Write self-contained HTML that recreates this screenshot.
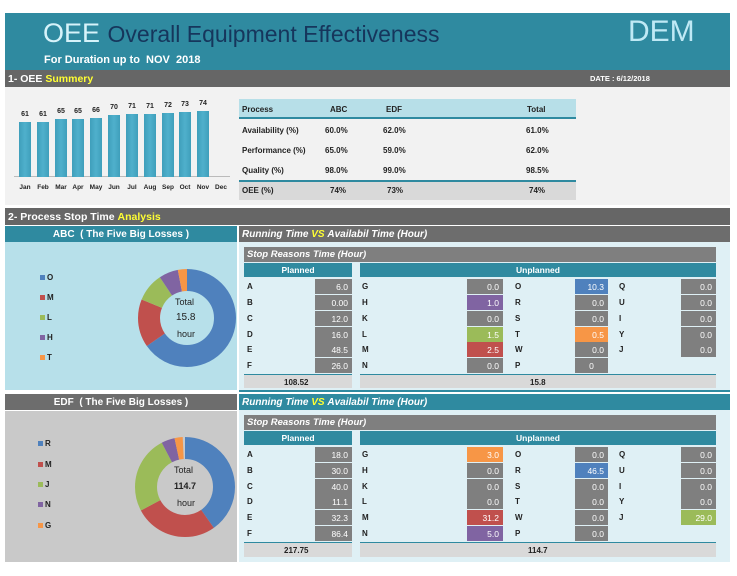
<!DOCTYPE html>
<html><head><meta charset="utf-8"><style>
*{margin:0;padding:0;box-sizing:border-box}
body{width:737px;height:576px;background:#fff;position:relative;overflow:hidden;font-family:"Liberation Sans",sans-serif}
.a{position:absolute}
.t{position:absolute;white-space:nowrap;line-height:1}
.bar{position:absolute;width:12px;background:linear-gradient(90deg,#3f9fbb,#4fb0cc 50%,#3f9fbb)}
.lb{position:absolute;font-size:7px;color:#222;width:18px;text-align:center;font-weight:bold}
.ml{position:absolute;font-size:6.5px;color:#222;width:18px;text-align:center;top:184px;font-weight:bold}
.hdr{position:absolute;color:#fff;font-weight:bold;font-size:10px;display:flex;align-items:center}
.gb{position:absolute;background:#7f7f7f;color:#fff;font-size:8.5px;text-align:right;padding-right:4px;display:flex;align-items:center;justify-content:flex-end;height:15px}
.lt{position:absolute;font-size:8px;font-weight:bold;color:#222}
.tb{font-size:8px;font-weight:bold;color:#222;position:absolute}
</style></head><body>
<div class="a" style="left:5px;top:13px;width:725px;height:57px;background:#2f8aa0"></div>
<div class="t" style="left:43px;top:20px;font-size:27px;color:#d6f3fa">OEE <span style="color:#16365c;font-size:23px">Overall Equipment Effectiveness</span></div>
<div class="t" style="left:44px;top:55px;font-size:11px;color:#fff;font-weight:bold">For Duration up to&nbsp; NOV&nbsp; 2018</div>
<div class="t" style="left:628px;top:17px;font-size:30px;color:#bfe9f5">DEM</div>
<div class="hdr" style="left:5px;top:70px;width:725px;height:17px;background:#666;padding-left:3px;font-size:10.5px">1- OEE&nbsp;<span style="color:#ffff33">Summery</span></div>
<div class="t" style="left:590px;top:75px;font-size:7.5px;color:#fff;font-weight:bold">DATE : 6/12/2018</div>
<div class="a" style="left:5px;top:87px;width:725px;height:118px;background:#f2f2f2"></div>
<div class="a" style="left:14px;top:176px;width:216px;height:1px;background:#bbb"></div>
<div class="bar" style="left:19px;top:122px;height:55px"></div><div class="lb" style="left:16px;top:111px">61</div><div class="ml" style="left:16px">Jan</div>
<div class="bar" style="left:37px;top:122px;height:55px"></div><div class="lb" style="left:34px;top:111px">61</div><div class="ml" style="left:34px">Feb</div>
<div class="bar" style="left:55px;top:118.7px;height:58px"></div><div class="lb" style="left:52px;top:108px">65</div><div class="ml" style="left:52px">Mar</div>
<div class="bar" style="left:72px;top:118.7px;height:58px"></div><div class="lb" style="left:69px;top:108px">65</div><div class="ml" style="left:69px">Apr</div>
<div class="bar" style="left:90px;top:117.8px;height:59px"></div><div class="lb" style="left:87px;top:107px">66</div><div class="ml" style="left:87px">May</div>
<div class="bar" style="left:108px;top:114.5px;height:62px"></div><div class="lb" style="left:105px;top:104px">70</div><div class="ml" style="left:105px">Jun</div>
<div class="bar" style="left:126px;top:113.6px;height:63px"></div><div class="lb" style="left:123px;top:103px">71</div><div class="ml" style="left:123px">Jul</div>
<div class="bar" style="left:144px;top:113.6px;height:63px"></div><div class="lb" style="left:141px;top:103px">71</div><div class="ml" style="left:141px">Aug</div>
<div class="bar" style="left:162px;top:112.7px;height:64px"></div><div class="lb" style="left:159px;top:102px">72</div><div class="ml" style="left:159px">Sep</div>
<div class="bar" style="left:179px;top:111.8px;height:65px"></div><div class="lb" style="left:176px;top:101px">73</div><div class="ml" style="left:176px">Oct</div>
<div class="bar" style="left:197px;top:110.9px;height:66px"></div><div class="lb" style="left:194px;top:100px">74</div><div class="ml" style="left:194px">Nov</div>
<div class="ml" style="left:212px">Dec</div>
<div class="a" style="left:239px;top:99px;width:337px;height:20px;background:#b7dfe8;border-bottom:2px solid #2f8aa0"></div>
<div class="a" style="left:239px;top:180px;width:337px;height:20px;background:#d9d9d9;border-top:2px solid #2f8aa0"></div>
<div class="tb" style="left:242px;top:105px">Process</div><div class="tb" style="left:330px;top:105px">ABC</div><div class="tb" style="left:386px;top:105px">EDF</div><div class="tb" style="left:527px;top:105px">Total</div>
<div class="tb" style="left:242px;top:126px">Availability (%)</div><div class="tb" style="left:325px;top:126px">60.0%</div><div class="tb" style="left:383px;top:126px">62.0%</div><div class="tb" style="left:526px;top:126px">61.0%</div>
<div class="tb" style="left:242px;top:146px">Performance (%)</div><div class="tb" style="left:325px;top:146px">65.0%</div><div class="tb" style="left:383px;top:146px">59.0%</div><div class="tb" style="left:526px;top:146px">62.0%</div>
<div class="tb" style="left:242px;top:166px">Quality (%)</div><div class="tb" style="left:325px;top:166px">98.0%</div><div class="tb" style="left:383px;top:166px">99.0%</div><div class="tb" style="left:526px;top:166px">98.5%</div>
<div class="tb" style="left:242px;top:186px">OEE (%)</div><div class="tb" style="left:330px;top:186px">74%</div><div class="tb" style="left:387px;top:186px">73%</div><div class="tb" style="left:529px;top:186px">74%</div>
<div class="hdr" style="left:5px;top:208px;width:725px;height:17px;background:#666;padding-left:3px;font-size:10.5px">2- Process Stop Time&nbsp;<span style="color:#ffff33">Analysis</span></div>
<div class="hdr" style="left:5px;top:226px;width:232px;height:16px;background:#2f8aa0;justify-content:center">ABC&nbsp; ( The Five Big Losses )</div>
<div class="hdr" style="left:239px;top:226px;width:491px;height:16px;background:#6d6d6d;padding-left:3px;font-style:italic">Running Time&nbsp;<span style="color:#ffff33">VS</span>&nbsp;Availabil Time (Hour)</div>
<div class="a" style="left:5px;top:242px;width:232px;height:148px;background:#b7e0ea"></div>
<div class="a" style="left:239px;top:242px;width:491px;height:148px;background:#dff0f5"></div>
<div class="a" style="left:239px;top:390px;width:491px;height:2px;background:#2f8aa0"></div>
<svg class="a" style="left:0;top:0" width="737" height="576">
<g transform="rotate(-90 187 318)" fill="none" stroke-width="22">
<circle cx="187" cy="318" r="38" stroke="#4f81bd" stroke-dasharray="155.65 300" stroke-dashoffset="0"/>
<circle cx="187" cy="318" r="38" stroke="#c0504d" stroke-dasharray="37.78 300" stroke-dashoffset="-155.65"/>
<circle cx="187" cy="318" r="38" stroke="#9bbb59" stroke-dasharray="22.67 300" stroke-dashoffset="-193.43"/>
<circle cx="187" cy="318" r="38" stroke="#8064a2" stroke-dasharray="15.11 300" stroke-dashoffset="-216.10"/>
<circle cx="187" cy="318" r="38" stroke="#f79646" stroke-dasharray="7.56 300" stroke-dashoffset="-231.21"/>
</g>
<g transform="rotate(-90 185 487)" fill="none" stroke-width="22">
<circle cx="185" cy="487" r="39" stroke="#4f81bd" stroke-dasharray="98.4 300" stroke-dashoffset="0"/>
<circle cx="185" cy="487" r="39" stroke="#c0504d" stroke-dasharray="66.0 300" stroke-dashoffset="-98.4"/>
<circle cx="185" cy="487" r="39" stroke="#9bbb59" stroke-dasharray="61.4 300" stroke-dashoffset="-164.4"/>
<circle cx="185" cy="487" r="39" stroke="#8064a2" stroke-dasharray="10.6 300" stroke-dashoffset="-225.8"/>
<circle cx="185" cy="487" r="39" stroke="#f79646" stroke-dasharray="6.4 300" stroke-dashoffset="-236.4"/>
</g>
</svg>
<div class="t" style="left:175px;top:298px;font-size:9px;color:#222">Total</div>
<div class="t" style="left:176px;top:313px;font-size:10px;color:#222">15.8</div>
<div class="t" style="left:177px;top:330px;font-size:9px;color:#222">hour</div>
<div class="a" style="left:40px;top:275px;width:5px;height:5px;background:#4f81bd"></div><div class="lt" style="left:47px;top:273px">O</div>
<div class="a" style="left:40px;top:295px;width:5px;height:5px;background:#c0504d"></div><div class="lt" style="left:47px;top:293px">M</div>
<div class="a" style="left:40px;top:315px;width:5px;height:5px;background:#9bbb59"></div><div class="lt" style="left:47px;top:313px">L</div>
<div class="a" style="left:40px;top:335px;width:5px;height:5px;background:#8064a2"></div><div class="lt" style="left:47px;top:333px">H</div>
<div class="a" style="left:40px;top:355px;width:5px;height:5px;background:#f79646"></div><div class="lt" style="left:47px;top:353px">T</div>
<div class="hdr" style="left:244px;top:247px;width:472px;height:15px;background:#7f7f7f;padding-left:3px;font-style:italic;font-size:9.5px">Stop Reasons Time (Hour)</div>
<div class="hdr" style="left:244px;top:263px;width:108px;height:14px;background:#2f8aa0;justify-content:center;font-size:8.5px">Planned</div>
<div class="hdr" style="left:360px;top:263px;width:356px;height:14px;background:#2f8aa0;justify-content:center;font-size:8.5px">Unplanned</div>
<div class="a" style="left:244px;top:374px;width:108px;height:14px;background:#d9d9d9;border-top:1px solid #2f8aa0"></div>
<div class="a" style="left:360px;top:374px;width:356px;height:14px;background:#d9d9d9;border-top:1px solid #2f8aa0"></div>
<div class="tb" style="left:284px;top:378px">108.52</div><div class="tb" style="left:530px;top:378px">15.8</div>
<div class="lt" style="left:247px;top:282px">A</div><div class="gb" style="left:315px;top:279px;width:37px">6.0</div>
<div class="lt" style="left:247px;top:298px">B</div><div class="gb" style="left:315px;top:295px;width:37px">0.00</div>
<div class="lt" style="left:247px;top:314px">C</div><div class="gb" style="left:315px;top:311px;width:37px">12.0</div>
<div class="lt" style="left:247px;top:330px">D</div><div class="gb" style="left:315px;top:327px;width:37px">16.0</div>
<div class="lt" style="left:247px;top:345px">E</div><div class="gb" style="left:315px;top:342px;width:37px">48.5</div>
<div class="lt" style="left:247px;top:361px">F</div><div class="gb" style="left:315px;top:358px;width:37px">26.0</div>
<div class="lt" style="left:362px;top:282px">G</div><div class="gb" style="left:467px;top:279px;width:36px">0.0</div>
<div class="lt" style="left:362px;top:298px">H</div><div class="gb" style="left:467px;top:295px;width:36px;background:#8064a2">1.0</div>
<div class="lt" style="left:362px;top:314px">K</div><div class="gb" style="left:467px;top:311px;width:36px">0.0</div>
<div class="lt" style="left:362px;top:330px">L</div><div class="gb" style="left:467px;top:327px;width:36px;background:#9bbb59">1.5</div>
<div class="lt" style="left:362px;top:345px">M</div><div class="gb" style="left:467px;top:342px;width:36px;background:#c0504d">2.5</div>
<div class="lt" style="left:362px;top:361px">N</div><div class="gb" style="left:467px;top:358px;width:36px">0.0</div>
<div class="lt" style="left:515px;top:282px">O</div><div class="gb" style="left:575px;top:279px;width:33px;background:#4f81bd">10.3</div>
<div class="lt" style="left:515px;top:298px">R</div><div class="gb" style="left:575px;top:295px;width:33px">0.0</div>
<div class="lt" style="left:515px;top:314px">S</div><div class="gb" style="left:575px;top:311px;width:33px">0.0</div>
<div class="lt" style="left:515px;top:330px">T</div><div class="gb" style="left:575px;top:327px;width:33px;background:#f79646">0.5</div>
<div class="lt" style="left:515px;top:345px">W</div><div class="gb" style="left:575px;top:342px;width:33px">0.0</div>
<div class="lt" style="left:515px;top:361px">P</div><div class="gb" style="left:575px;top:358px;width:33px;justify-content:center;padding:0">0</div>
<div class="lt" style="left:619px;top:282px">Q</div><div class="gb" style="left:681px;top:279px;width:35px">0.0</div>
<div class="lt" style="left:619px;top:298px">U</div><div class="gb" style="left:681px;top:295px;width:35px">0.0</div>
<div class="lt" style="left:619px;top:314px">I</div><div class="gb" style="left:681px;top:311px;width:35px">0.0</div>
<div class="lt" style="left:619px;top:330px">Y</div><div class="gb" style="left:681px;top:327px;width:35px">0.0</div>
<div class="lt" style="left:619px;top:345px">J</div><div class="gb" style="left:681px;top:342px;width:35px">0.0</div>
<div class="hdr" style="left:5px;top:394px;width:232px;height:16px;background:#6d6d6d;justify-content:center">EDF&nbsp; ( The Five Big Losses )</div>
<div class="hdr" style="left:239px;top:394px;width:491px;height:16px;background:#2f8aa0;padding-left:3px;font-style:italic">Running Time&nbsp;<span style="color:#ffff33">VS</span>&nbsp;Availabil Time (Hour)</div>
<div class="a" style="left:5px;top:411px;width:232px;height:151px;background:#c9c9c9;z-index:-1"></div>
<div class="a" style="left:239px;top:410px;width:491px;height:152px;background:#dff0f5;z-index:-1"></div>
<div class="t" style="left:174px;top:466px;font-size:9px;color:#222">Total</div>
<div class="t" style="left:174px;top:482px;font-size:9px;color:#222;font-weight:bold">114.7</div>
<div class="t" style="left:177px;top:499px;font-size:9px;color:#222">hour</div>
<div class="a" style="left:38px;top:441px;width:5px;height:5px;background:#4f81bd"></div><div class="lt" style="left:45px;top:439px">R</div>
<div class="a" style="left:38px;top:462px;width:5px;height:5px;background:#c0504d"></div><div class="lt" style="left:45px;top:460px">M</div>
<div class="a" style="left:38px;top:482px;width:5px;height:5px;background:#9bbb59"></div><div class="lt" style="left:45px;top:480px">J</div>
<div class="a" style="left:38px;top:502px;width:5px;height:5px;background:#8064a2"></div><div class="lt" style="left:45px;top:500px">N</div>
<div class="a" style="left:38px;top:523px;width:5px;height:5px;background:#f79646"></div><div class="lt" style="left:45px;top:521px">G</div>
<div class="hdr" style="left:244px;top:415px;width:472px;height:15px;background:#7f7f7f;padding-left:3px;font-style:italic;font-size:9.5px">Stop Reasons Time (Hour)</div>
<div class="hdr" style="left:244px;top:431px;width:108px;height:14px;background:#2f8aa0;justify-content:center;font-size:8.5px">Planned</div>
<div class="hdr" style="left:360px;top:431px;width:356px;height:14px;background:#2f8aa0;justify-content:center;font-size:8.5px">Unplanned</div>
<div class="a" style="left:244px;top:542px;width:108px;height:15px;background:#d9d9d9;border-top:1px solid #2f8aa0"></div>
<div class="a" style="left:360px;top:542px;width:356px;height:15px;background:#d9d9d9;border-top:1px solid #2f8aa0"></div>
<div class="tb" style="left:284px;top:546px">217.75</div><div class="tb" style="left:528px;top:546px">114.7</div>
<div class="lt" style="left:247px;top:450px">A</div><div class="gb" style="left:315px;top:447px;width:37px">18.0</div>
<div class="lt" style="left:247px;top:466px">B</div><div class="gb" style="left:315px;top:463px;width:37px">30.0</div>
<div class="lt" style="left:247px;top:482px">C</div><div class="gb" style="left:315px;top:479px;width:37px">40.0</div>
<div class="lt" style="left:247px;top:497px">D</div><div class="gb" style="left:315px;top:494px;width:37px">11.1</div>
<div class="lt" style="left:247px;top:513px">E</div><div class="gb" style="left:315px;top:510px;width:37px">32.3</div>
<div class="lt" style="left:247px;top:529px">F</div><div class="gb" style="left:315px;top:526px;width:37px">86.4</div>
<div class="lt" style="left:362px;top:450px">G</div><div class="gb" style="left:467px;top:447px;width:36px;background:#f79646">3.0</div>
<div class="lt" style="left:362px;top:466px">H</div><div class="gb" style="left:467px;top:463px;width:36px">0.0</div>
<div class="lt" style="left:362px;top:482px">K</div><div class="gb" style="left:467px;top:479px;width:36px">0.0</div>
<div class="lt" style="left:362px;top:497px">L</div><div class="gb" style="left:467px;top:494px;width:36px">0.0</div>
<div class="lt" style="left:362px;top:513px">M</div><div class="gb" style="left:467px;top:510px;width:36px;background:#c0504d">31.2</div>
<div class="lt" style="left:362px;top:529px">N</div><div class="gb" style="left:467px;top:526px;width:36px;background:#8064a2">5.0</div>
<div class="lt" style="left:515px;top:450px">O</div><div class="gb" style="left:575px;top:447px;width:33px">0.0</div>
<div class="lt" style="left:515px;top:466px">R</div><div class="gb" style="left:575px;top:463px;width:33px;background:#4f81bd">46.5</div>
<div class="lt" style="left:515px;top:482px">S</div><div class="gb" style="left:575px;top:479px;width:33px">0.0</div>
<div class="lt" style="left:515px;top:497px">T</div><div class="gb" style="left:575px;top:494px;width:33px">0.0</div>
<div class="lt" style="left:515px;top:513px">W</div><div class="gb" style="left:575px;top:510px;width:33px">0.0</div>
<div class="lt" style="left:515px;top:529px">P</div><div class="gb" style="left:575px;top:526px;width:33px">0.0</div>
<div class="lt" style="left:619px;top:450px">Q</div><div class="gb" style="left:681px;top:447px;width:35px">0.0</div>
<div class="lt" style="left:619px;top:466px">U</div><div class="gb" style="left:681px;top:463px;width:35px">0.0</div>
<div class="lt" style="left:619px;top:482px">I</div><div class="gb" style="left:681px;top:479px;width:35px">0.0</div>
<div class="lt" style="left:619px;top:497px">Y</div><div class="gb" style="left:681px;top:494px;width:35px">0.0</div>
<div class="lt" style="left:619px;top:513px">J</div><div class="gb" style="left:681px;top:510px;width:35px;background:#9bbb59">29.0</div>
</body></html>
